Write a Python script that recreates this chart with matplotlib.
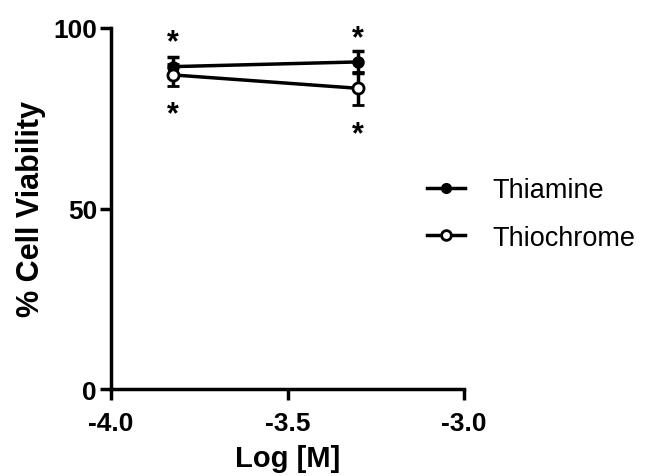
import matplotlib
matplotlib.use("Agg")
import matplotlib.pyplot as plt
from matplotlib.lines import Line2D

x = [-3.824, -3.301]
thiamine = [89.3, 90.6]
thiamine_err = [2.8, 3.1]
thiochrome = [87.0, 83.3]
thiochrome_err = [3.0, 4.6]
star_above = [96.0, 97.2]
star_below = [76.0, 70.5]

plt.rcParams['font.family'] = ['Liberation Sans', 'DejaVu Sans']

fig = plt.figure(figsize=(6.45, 4.77), dpi=100)
ax = fig.add_axes([111/645, 1-390/477, (464-111)/645, (390-29)/477])

ax.errorbar(x, thiamine, yerr=thiamine_err, color='black', marker='o', ms=8,
            mfc='black', mec='black', lw=2.5, elinewidth=2.5, capsize=4, capthick=2.5,
            zorder=3)
ax.errorbar(x, thiochrome, yerr=thiochrome_err, color='black', marker='o', ms=8,
            mfc='white', mec='black', mew=2, lw=2.5, elinewidth=2.5, capsize=4, capthick=2.5,
            zorder=3)

for xi, ya in zip(x, star_above):
    ax.text(xi, ya, '*', ha='center', va='center', fontsize=22, fontweight='bold')
for xi, yb in zip(x, star_below):
    ax.text(xi, yb, '*', ha='center', va='center', fontsize=22, fontweight='bold')

ax.set_xlim(-4.0, -3.0)
ax.set_ylim(0, 100)
ax.set_xticks([-4.0, -3.5, -3.0])
ax.set_xticklabels(['-4.0', '-3.5', '-3.0'])
ax.set_yticks([0, 50, 100])
for s in ['top', 'right']:
    ax.spines[s].set_visible(False)
for s in ['left', 'bottom']:
    ax.spines[s].set_linewidth(2.5)
ax.tick_params(width=2.5, length=8, direction='out', labelsize=19)
ax.tick_params(axis='x', pad=8)
ax.tick_params(axis='y', pad=2)
for lab in ax.get_xticklabels() + ax.get_yticklabels():
    lab.set_fontweight('bold')
ax.set_xlabel('Log [M]', fontsize=21, fontweight='bold', labelpad=6)
ax.set_ylabel('% Cell Viability', fontsize=22, fontweight='bold', labelpad=5)

handles = [
    Line2D([], [], color='black', lw=2.5, marker='o', ms=7, mfc='black', mec='black'),
    Line2D([], [], color='black', lw=2.5, marker='o', ms=7, mfc='white', mec='black', mew=2),
]
labels = ['Thiamine', 'Thiochrome']
leg = fig.legend(handles, labels, loc='center left', bbox_to_anchor=(403/645, 1-215/477),
                 frameon=False, fontsize=19.5, handlelength=1.4, handletextpad=1.0,
                 labelspacing=0.8)

fig.savefig('out.png', dpi=100)
